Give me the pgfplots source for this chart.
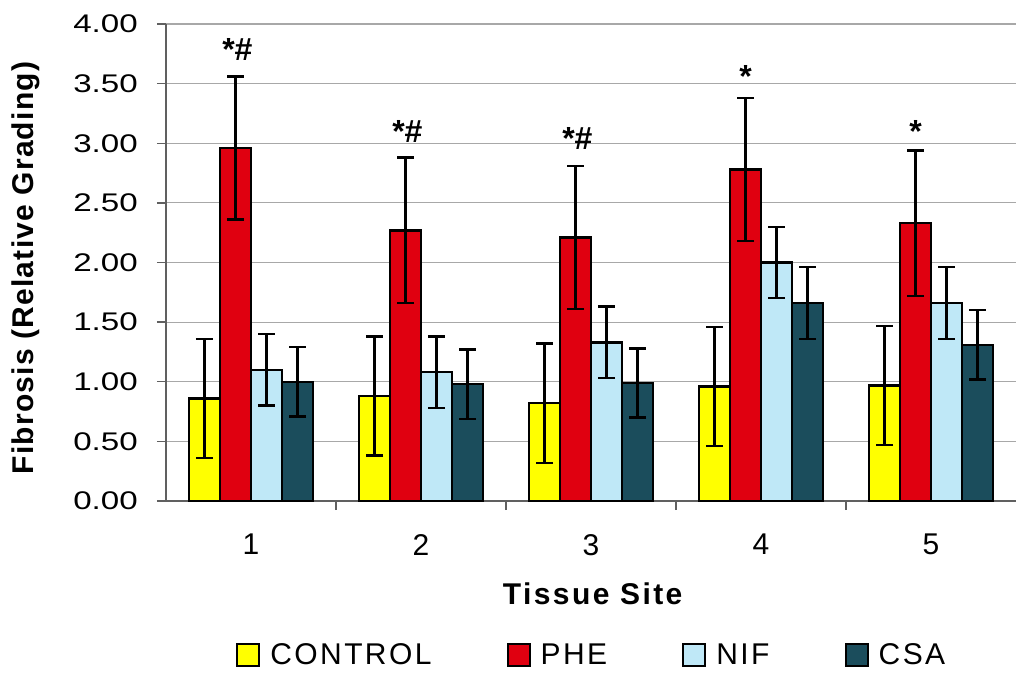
\documentclass[border=0pt]{standalone}
\usepackage{fontspec}
\setmainfont{Liberation Sans}
\newfontfamily\ytickfont[FakeStretch=1.3]{Liberation Sans}
\newfontfamily\spfont[LetterSpace=8]{Liberation Sans}
\newfontfamily\ylabfont[LetterSpace=4]{Liberation Sans}
\usepackage{pgfplots}
\pgfplotsset{compat=1.18}
\usepackage{pgfplotstable}

\definecolor{cctrl}{HTML}{FFFF00}
\definecolor{cphe}{HTML}{E00010}
\definecolor{cnif}{HTML}{BFE8F7}
\definecolor{ccsa}{HTML}{1B4D5C}
\definecolor{axgray}{HTML}{606060}
\definecolor{gridgray}{HTML}{A8A8A8}

\pgfplotstableread{
x y e
1 0.86 0.50
2 0.88 0.50
3 0.82 0.50
4 0.96 0.50
5 0.97 0.50
}\control
\pgfplotstableread{
x y e
1 2.96 0.60
2 2.27 0.61
3 2.21 0.60
4 2.78 0.60
5 2.33 0.61
}\phe
\pgfplotstableread{
x y e
1 1.10 0.30
2 1.08 0.30
3 1.33 0.30
4 2.00 0.30
5 1.66 0.30
}\nif
\pgfplotstableread{
x y e
1 1.00 0.29
2 0.98 0.29
3 0.99 0.29
4 1.66 0.30
5 1.31 0.29
}\csa

\begin{document}
\begin{tikzpicture}
\begin{axis}[
  scale only axis, width=850pt, height=477pt,
  xmin=0.5, xmax=5.5, ymin=0, ymax=4,
  ybar=0pt, bar width=31pt,
  axis x line*=bottom, axis y line*=left,
  axis line style={axgray, line width=1.8pt, -},
  tick align=outside,
  major tick length=9pt,
  tick style={axgray, line width=1.4pt},
  xtick={1.5,2.5,3.5,4.5}, xticklabels={},
  extra x ticks={1,2,3,4,5},
  extra x tick labels={1,2,3,4,5},
  extra x tick style={major tick length=0pt},
  xticklabel style={font=\fontsize{30}{30}\selectfont, inner sep=0pt, yshift=-33pt},
  ytick={0,0.5,1,1.5,2,2.5,3,3.5,4},
  scaled y ticks=false,
  yticklabel style={font=\ytickfont\fontsize{25.5}{25.5}\selectfont, inner sep=0pt, xshift=-19pt,
    /pgf/number format/fixed, /pgf/number format/fixed zerofill,
    /pgf/number format/precision=2, /pgf/number format/assume math mode=true},
  ymajorgrids,
  major grid style={gridgray, line width=1.2pt},
  xlabel={Tissue Site},
  xlabel style={font=\spfont\bfseries\fontsize{30}{30}\selectfont, at={(axis description cs:0.502,-0.218)}, anchor=base},
  ylabel={Fibrosis (Relative Grading)},
  ylabel style={font=\ylabfont\bfseries\fontsize{30}{30}\selectfont, at={(axis description cs:-0.1647,0.4885)}, anchor=center},
  legend columns=4,
  legend style={font=\spfont\fontsize{30}{30}\selectfont, draw=none, fill=none, inner sep=0pt,
    nodes={inner sep=0pt},
    at={(axis description cs:0.0824,-0.3229)}, anchor=west,
    /tikz/every odd column/.append style={column sep=10pt},
    /tikz/every even column/.append style={column sep=75pt}},
  myleg/.style={legend image code/.code={\draw[##1, draw=black, line width=2.2pt] (0pt,-11pt) rectangle (22pt,11pt);}},
  error bars/y dir=both, error bars/y explicit,
  error bars/error mark options={rotate=90, mark size=8.5pt, line width=2.4pt, black},
  error bars/error bar style={line width=2.2pt, black},
]
\addplot[fill=cctrl, draw=black, line width=2.4pt, myleg] table[x=x, y=y, y error=e] {\control};
\addplot[fill=cphe, draw=black, line width=2.4pt, myleg] table[x=x, y=y, y error=e] {\phe};
\addplot[fill=cnif, draw=black, line width=2.4pt, myleg] table[x=x, y=y, y error=e] {\nif};
\addplot[fill=ccsa, draw=black, line width=2.4pt, myleg] table[x=x, y=y, y error=e] {\csa};
\legend{CONTROL, PHE, NIF, CSA}
\node[font=\bfseries\fontsize{32}{32}\selectfont, anchor=base, inner sep=0pt] at (axis cs:0.92,3.69) {*\#};
\node[font=\bfseries\fontsize{32}{32}\selectfont, anchor=base, inner sep=0pt] at (axis cs:1.92,3.01) {*\#};
\node[font=\bfseries\fontsize{32}{32}\selectfont, anchor=base, inner sep=0pt] at (axis cs:2.92,2.95) {*\#};
\node[font=\bfseries\fontsize{32}{32}\selectfont, anchor=base, inner sep=0pt] at (axis cs:3.91,3.47) {*};
\node[font=\bfseries\fontsize{32}{32}\selectfont, anchor=base, inner sep=0pt] at (axis cs:4.91,3.01) {*};
\coordinate (O) at (rel axis cs:0,0);
\end{axis}
\pgfresetboundingbox
\path[use as bounding box] (O) ++(-166pt,-174pt) rectangle ++(1019pt,675pt);
\end{tikzpicture}
\end{document}
